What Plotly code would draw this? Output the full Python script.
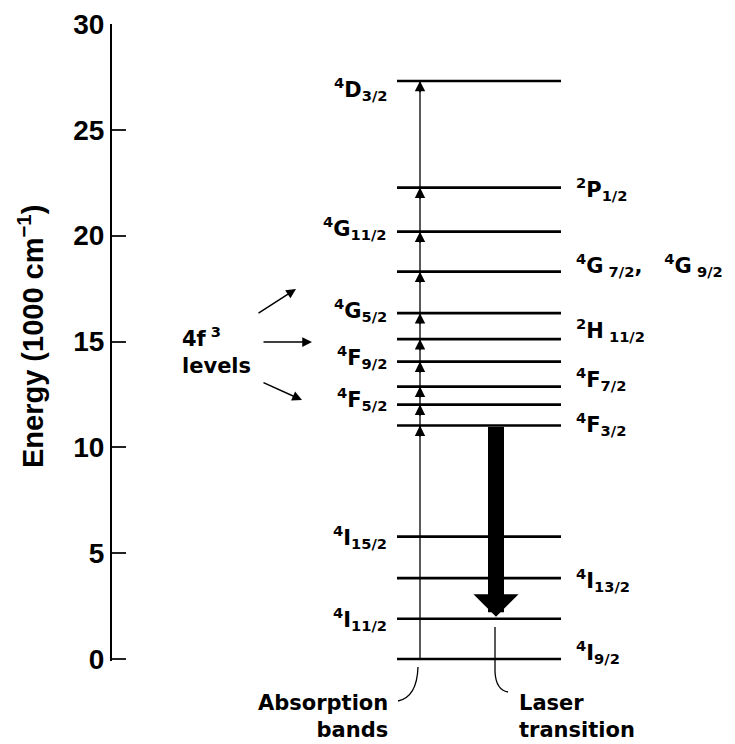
import plotly.graph_objects as go

# ---------------- data ----------------
level_names = ["4I9/2", "4I11/2", "4I13/2", "4I15/2", "4F3/2", "4F5/2", "4F7/2",
               "4F9/2", "2H11/2", "4G5/2", "4G7/2,4G9/2", "4G11/2", "2P1/2", "4D3/2"]
level_energy = [0.0, 1.90, 3.82, 5.78, 11.03, 12.02, 12.87,
                14.05, 15.11, 16.34, 18.30, 20.19, 22.27, 27.31]   # 1000 cm^-1
NB = "\u00a0"
level_text = ["<sup>4</sup>I<sub>9/2</sub>", "<sup>4</sup>I<sub>11/2</sub>",
              "<sup>4</sup>I<sub>13/2</sub>", "<sup>4</sup>I<sub>15/2</sub>",
              "<sup>4</sup>F<sub>3/2</sub>", "<sup>4</sup>F<sub>5/2</sub>",
              "<sup>4</sup>F<sub>7/2</sub>", "<sup>4</sup>F<sub>9/2</sub>",
              "<sup>2</sup>H<sub>" + NB + "11/2</sub>", "<sup>4</sup>G<sub>5/2</sub>",
              "<sup>4</sup>G<sub>" + NB + "7/2</sub>," + NB * 3
              + "<sup>4</sup>G<sub>" + NB + "9/2</sub>",
              "<sup>4</sup>G<sub>11/2</sub>", "<sup>2</sup>P<sub>1/2</sub>",
              "<sup>4</sup>D<sub>3/2</sub>"]
absorption_levels = ["4F3/2", "4F5/2", "4F7/2", "4F9/2", "2H11/2", "4G5/2",
                     "4G7/2,4G9/2", "4G11/2", "2P1/2", "4D3/2"]
laser_upper = "4F3/2"
laser_lower = "4I11/2"
ytick_vals = [0, 5, 10, 15, 20, 25, 30]
ytick_text = ["0", "5", "10", "15", "20", "25", "30"]
y_title = "Energy (1000 cm<sup>\u22121</sup>)"
group_text = "4f<sup>" + NB + "3</sup><br>levels"
absorption_text = "Absorption<br>bands"
laser_text = "Laser<br>transition"

# ---------------- layout / style ----------------
OFF = 8                      # page body margin in the browser
W, H = 735 - OFF, 744 - OFF
REF_L, REF_Y0, REF_T = 112, 659, 24        # reference pixel frame (y=0 and y=30)
UNIT = (REF_Y0 - REF_T) / 30.0
EXT = 2                                     # px of range below 0 so the base level isn't clipped
YMIN = -EXT / UNIT
BOT = REF_Y0 + EXT
ML, MT, MB = REF_L - OFF, REF_T - OFF, 744 - BOT
PLOT_H = BOT - REF_T
PLOT_W = 735 - REF_L
FONT = "Liberation Sans, Arial, sans-serif"
LFONT = "DejaVu Sans, Verdana, sans-serif"

label_side = {"4I9/2": "r", "4I11/2": "l", "4I13/2": "r", "4I15/2": "l",
              "4F3/2": "r", "4F5/2": "l", "4F7/2": "r", "4F9/2": "l",
              "2H11/2": "r", "4G5/2": "l", "4G7/2,4G9/2": "r", "4G11/2": "l",
              "2P1/2": "r", "4D3/2": "l"}
label_shift = {"4I9/2": 7, "4I11/2": 0, "4I13/2": -2, "4I15/2": 0,
               "4F3/2": 2, "4F5/2": 6, "4F7/2": 8, "4F9/2": 5,
               "2H11/2": 9, "4G5/2": 3, "4G7/2,4G9/2": 7, "4G11/2": 4,
               "2P1/2": -1, "4D3/2": -8}


def py2y(py):
    return (REF_Y0 - py) / UNIT


def px2p(px):
    return (px - REF_L) / PLOT_W


def py2p(py):
    return (BOT - py) / PLOT_H


E = dict(zip(level_names, level_energy))
LINE_X0, LINE_X1 = 397, 561
ABS_X, LASER_X = 420, 496

fig = go.Figure()

# energy levels
for name, en in zip(level_names, level_energy):
    fig.add_trace(go.Scatter(x=[LINE_X0, LINE_X1], y=[en, en], mode="lines",
                             line=dict(color="black", width=2.6),
                             hoverinfo="skip", showlegend=False))

# absorption line
fig.add_trace(go.Scatter(x=[ABS_X, ABS_X], y=[min(level_energy), max(level_energy)],
                         mode="lines", line=dict(color="black", width=1.3),
                         hoverinfo="skip", showlegend=False))

ann = []
# absorption arrowheads
for name in absorption_levels:
    ann.append(dict(x=ABS_X, y=E[name], ax=ABS_X, ay=E[name] - 0.6,
                    xref="x", yref="y", axref="x", ayref="y", text="",
                    showarrow=True, arrowhead=2, arrowsize=1.6, arrowwidth=1.3,
                    arrowcolor="black"))

# laser transition arrow
ann.append(dict(x=LASER_X, y=E[laser_lower], ax=LASER_X, ay=E[laser_upper],
                xref="x", yref="y", axref="x", ayref="y", text="",
                showarrow=True, arrowhead=1, arrowsize=0.47, arrowwidth=16,
                arrowcolor="black", standoff=2))

# level labels
for name, txt in zip(level_names, level_text):
    left = label_side[name] == "l"
    ann.append(dict(x=389 if left else 574, y=E[name], xref="x", yref="y", text=txt,
                    xanchor="right" if left else "left", yanchor="middle",
                    showarrow=False, yshift=label_shift[name],
                    font=dict(family=LFONT, size=21, color="black", weight="bold")))

# 4f3 levels group label + pointers
ann.append(dict(x=px2p(180), y=py2p(351), xref="paper", yref="paper", text=group_text,
                xanchor="left", yanchor="middle", align="left", showarrow=False,
                font=dict(family=LFONT, size=21, color="black", weight="bold")))
for (tx, ty, hx, hy) in [(257, 314, 296, 289), (262, 342, 312, 342), (262, 382, 302, 400)]:
    ann.append(dict(x=hx, y=py2y(hy), ax=tx, ay=py2y(ty), xref="x", yref="y",
                    axref="x", ayref="y", text="", showarrow=True, arrowhead=2,
                    arrowsize=1.3, arrowwidth=1.5, arrowcolor="black"))

# bottom labels
ann.append(dict(x=px2p(390), y=py2p(716), xref="paper", yref="paper", text=absorption_text,
                xanchor="right", yanchor="middle", align="right", showarrow=False,
                font=dict(family=LFONT, size=21, color="black", weight="bold")))
ann.append(dict(x=px2p(517), y=py2p(716), xref="paper", yref="paper", text=laser_text,
                xanchor="left", yanchor="middle", align="left", showarrow=False,
                font=dict(family=LFONT, size=21, color="black", weight="bold")))

# y-axis title
ann.append(dict(x=px2p(31), y=py2p(337), xref="paper", yref="paper", text=y_title,
                textangle=-90, xanchor="center", yanchor="middle", showarrow=False,
                font=dict(family=FONT, size=29, color="black", weight="bold")))


def P(px, py):
    return f"{px2p(px):.5f},{py2p(py):.5f}"


shapes = [
    dict(type="path", xref="paper", yref="paper",
         path=f"M {P(418, 667)} Q {P(417, 697)} {P(398, 701)}",
         line=dict(color="black", width=1.3)),
    dict(type="path", xref="paper", yref="paper",
         path=f"M {P(495, 627)} L {P(495, 672)} Q {P(496, 690)} {P(508, 692)}",
         line=dict(color="black", width=1.3)),
]

fig.update_layout(
    width=W, height=H,
    margin=dict(l=ML, r=0, t=MT, b=MB, pad=0),
    paper_bgcolor="white", plot_bgcolor="white",
    showlegend=False,
    annotations=ann, shapes=shapes,
    xaxis=dict(range=[REF_L, 735], visible=False, fixedrange=True),
    yaxis=dict(range=[YMIN, 30], tickvals=ytick_vals, ticktext=ytick_text,
               showline=True, linecolor="black", linewidth=2,
               ticks="inside", ticklen=14, tickwidth=1.5, tickcolor="#222",
               showgrid=False, zeroline=False,
               tickfont=dict(family=FONT, size=28, color="black", weight="bold")),
)

fig.write_html("out.html")
